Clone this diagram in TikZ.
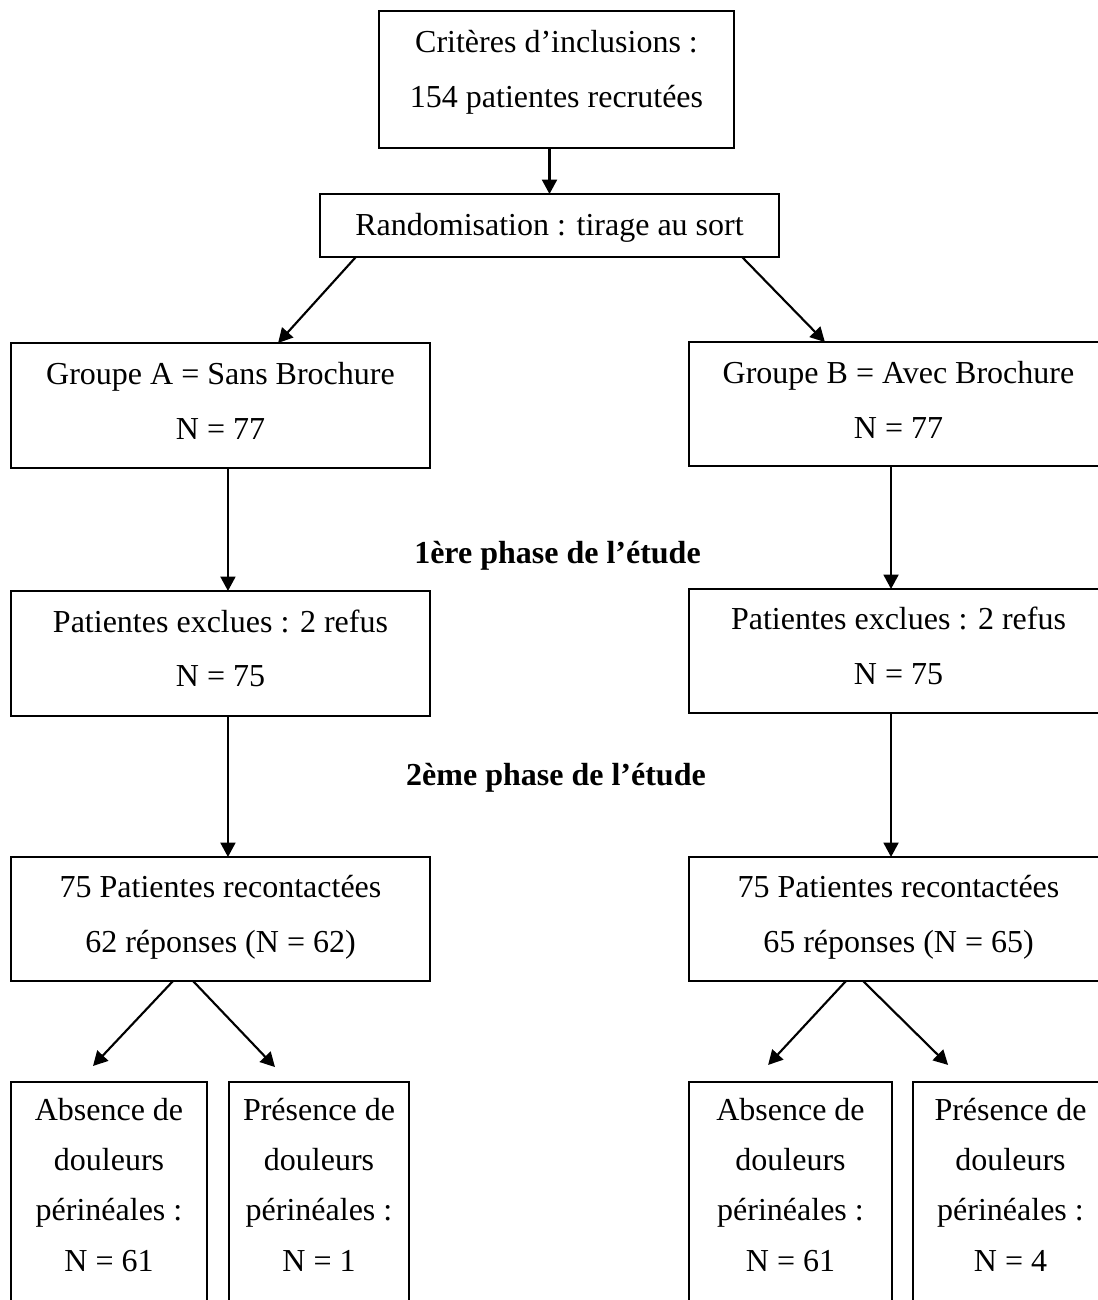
\documentclass[tikz,border=0pt]{standalone}
\usepackage{fontspec}
\setmainfont{Liberation Serif}
\usetikzlibrary{arrows.meta}
\tikzset{
  box/.style={draw, line width=0.8pt, rectangle, inner sep=0pt, outer sep=0pt},
  wbox/.style={box, minimum width=157.1pt},
  txt/.style={anchor=base, inner sep=0pt, outer sep=0pt, font=\fontsize{12pt}{14pt}\selectfont},
  btxt/.style={txt, font=\fontsize{12pt}{14pt}\selectfont\bfseries},
  arr/.style={line width=0.8pt, -{Triangle[length=5.4pt, width=5.6pt]}}
}
\begin{document}
\begin{tikzpicture}[x=0.375pt, y=-0.375pt]
\useasboundingbox (0,0) rectangle (1098,1300);
\clip (0,0) rectangle (1098,1300);
\fill[white] (0,0) rectangle (1098,1300);

% boxes
\node[box, minimum width=133.1pt, minimum height=51.4pt] (top) at (556.5,79.5) {};
\node[box, minimum width=172.1pt, minimum height=23.6pt] (rand) at (549.5,225.5) {};
\node[wbox, minimum height=46.9pt] (gA) at (220.5,405.5) {};
\node[wbox, minimum height=46.5pt] (gB) at (898.5,404) {};
\node[wbox, minimum height=46.9pt] (A2) at (220.5,653.5) {};
\node[wbox, minimum height=46.5pt] (B2) at (898.5,651) {};
\node[wbox, minimum height=46.5pt] (A3) at (220.5,919) {};
\node[wbox, minimum height=46.5pt] (B3) at (898.5,919) {};
\node[box, minimum width=73.5pt, minimum height=89.25pt] (A4a) at (109,1201) {};
\node[box, minimum width=67.5pt, minimum height=89.25pt] (A4b) at (319,1201) {};
\node[box, minimum width=76.1pt, minimum height=89.25pt] (B4a) at (790.5,1201) {};
\node[box, minimum width=73.1pt, minimum height=89.25pt] (B4b) at (1010.5,1201) {};

% texts
\node[txt] (t1) at (556.5,52) {Critères d’inclusions :};
\node[txt] (t2) at (556.5,107) {154 patientes recrutées};
\node[txt] (t3) at (549.5,235) {Randomisation : tirage au sort};
\node[txt] (t4) at (220.5,384) {Groupe A = Sans Brochure};
\node[txt] (t5) at (220.5,439) {N = 77};
\node[txt] (t6) at (898.5,383) {Groupe B = Avec Brochure};
\node[txt] (t7) at (898.5,438) {N = 77};
\node[btxt] (ph1) at (557.5,563) {1ère phase de l’étude};
\node[txt] (t8) at (220.5,632) {Patientes exclues : 2 refus};
\node[txt] (t9) at (220.5,686) {N = 75};
\node[txt] (t10) at (898.5,629) {Patientes exclues : 2 refus};
\node[txt] (t11) at (898.5,684) {N = 75};
\node[btxt] (ph2) at (556,785) {2ème phase de l’étude};
\node[txt] (t12) at (220.5,897) {75 Patientes recontactées};
\node[txt] (t13) at (220.5,952) {62 réponses (N = 62)};
\node[txt] (t14) at (898.5,897) {75 Patientes recontactées};
\node[txt] (t15) at (898.5,952) {65 réponses (N = 65)};

\node[txt] (a1) at (109,1120) {Absence de};
\node[txt] (a2) at (109,1170) {douleurs};
\node[txt] (a3) at (109,1220) {périnéales :};
\node[txt] (a4) at (109,1271) {N = 61};
\node[txt] (b1) at (319,1120) {Présence de};
\node[txt] (b2) at (319,1170) {douleurs};
\node[txt] (b3) at (319,1220) {périnéales :};
\node[txt] (b4) at (319,1271) {N = 1};
\node[txt] (c1) at (790.5,1120) {Absence de};
\node[txt] (c2) at (790.5,1170) {douleurs};
\node[txt] (c3) at (790.5,1220) {périnéales :};
\node[txt] (c4) at (790.5,1271) {N = 61};
\node[txt] (d1) at (1010.5,1120) {Présence de};
\node[txt] (d2) at (1010.5,1170) {douleurs};
\node[txt] (d3) at (1010.5,1220) {périnéales :};
\node[txt] (d4) at (1010.5,1271) {N = 4};

% connectors
\draw[arr] (top.south -| rand.north) -- (rand.north);
\draw[arr] ([xshift=-72.6pt]rand.south) -- ([xshift=21.6pt]gA.north);
\draw[arr] ([xshift=72.2pt]rand.south) -- ([xshift=-27.6pt]gB.north);
\draw[arr] ([xshift=2.8pt]gA.south) -- ([xshift=2.8pt]A2.north);
\draw[arr] ([xshift=-2.8pt]gB.south) -- ([xshift=-2.8pt]B2.north);
\draw[arr] ([xshift=2.8pt]A2.south) -- ([xshift=2.8pt]A3.north);
\draw[arr] ([xshift=-2.8pt]B2.south) -- ([xshift=-2.8pt]B3.north);
\draw[arr] ([xshift=-17.8pt]A3.south) -- ([xshift=-6pt,yshift=6pt]A4a.north);
\draw[arr] ([xshift=-10.3pt]A3.south) -- ([xshift=-16.5pt,yshift=5.6pt]A4b.north);
\draw[arr] ([xshift=-19.7pt]B3.south) -- ([xshift=-8.4pt,yshift=6.4pt]B4a.north);
\draw[arr] ([xshift=-13.3pt]B3.south) -- ([xshift=-23.4pt,yshift=6.4pt]B4b.north);
\end{tikzpicture}
\end{document}
